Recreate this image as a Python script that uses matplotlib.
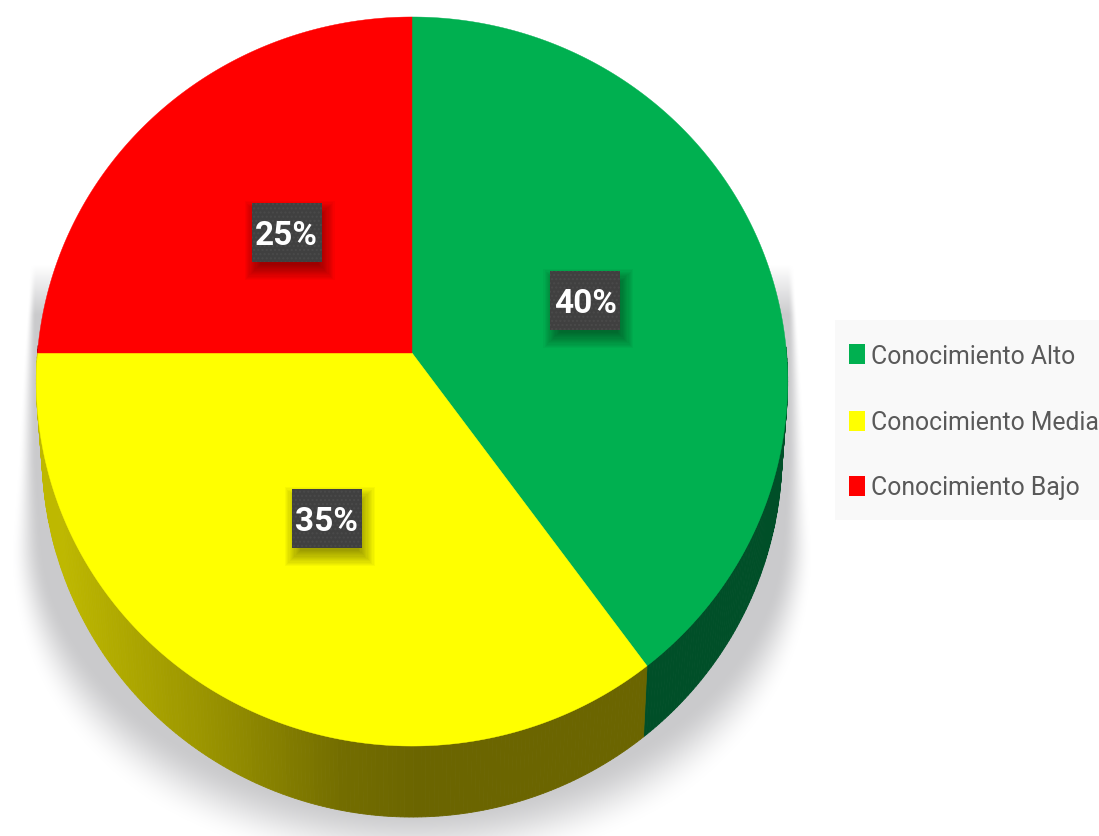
import numpy as np
import matplotlib
matplotlib.use("Agg")
import matplotlib.pyplot as plt
from matplotlib.patches import Rectangle

categories = ["Conocimiento Alto", "Conocimiento Media", "Conocimiento Bajo"]
values = [40, 35, 25]
slice_colors = ["#00B050", "#FFFF00", "#FF0000"]
side_colors = ["#004F28", "#6B6500", "#7F0000"]
labels = ["40%", "35%", "25%"]

# perspective of the pie disc, in pixels
CX, CY = 412, 353
RX, RY = 374.5, 362.3
TILT = 0.0782
DEPTH = 71
BOTTOM_SCALE = 0.985


def project(theta, r=1.0):
    # theta runs clockwise from twelve o'clock, in degrees
    t = np.radians(theta)
    x = r * np.sin(t)
    y = r * np.cos(t)
    w = 1 + TILT * y
    return CX + RX * x / w, CY - RY * y / w


fig = plt.figure(figsize=(10.99, 8.36), dpi=100)
ax = fig.add_axes([0, 0, 1, 1])

# soft shadow under the pie, tight along the sides and loose at the bottom
xx, yy = np.meshgrid(np.arange(1099) + 0.5, np.arange(836) + 0.5)
ry_map = np.where(yy < 540, 1500, 300)
dist = np.sqrt(((xx - 412) / 385) ** 2 + ((yy - 540) / ry_map) ** 2)
soft = np.interp(yy, [300, 467, 600, 800], [0.02, 0.05, 0.1, 0.22])
alpha = np.clip((1 - dist) / soft + 0.5, 0, 1)
alpha = alpha * alpha * (3 - 2 * alpha)
alpha = alpha * np.clip((yy - 265) / 50, 0, 1)
shadow = np.zeros((836, 1099, 4))
shadow[..., :3] = np.array([202, 202, 204]) / 255
shadow[..., 3] = alpha
ax.imshow(shadow, extent=(0, 1099, 836, 0), zorder=1, interpolation="bilinear", aspect="auto")
ax.set_xlim(0, 1099)
ax.set_ylim(836, 0)
ax.axis("off")

angles = 360 * np.cumsum([0] + values) / sum(values)

# side wall, drawn as thin strips so the yellow part can shade across
for i in range(len(values)):
    steps = np.linspace(angles[i], angles[i + 1], int(values[i] * 6) + 2)
    for a, b in zip(steps[:-1], steps[1:]):
        xa, ya = project(a)
        xb, yb = project(b)
        if ya < CY - 5 and yb < CY - 5:
            continue
        xa2 = CX + (xa - CX) * BOTTOM_SCALE
        xb2 = CX + (xb - CX) * BOTTOM_SCALE
        col = side_colors[i]
        if i == 1:
            mid = (xa + xb) / 2
            g = np.interp(mid, [60, 200, 340, 420], [0, 0.42, 0.9, 1])
            col = (
                (190 + (107 - 190) * g) / 255,
                (184 + (101 - 184) * g) / 255,
                0,
            )
        ax.fill([xa, xb, xb2, xa2], [ya, yb, yb + DEPTH, ya + DEPTH],
                color=col, lw=0.6, zorder=2)

# top face
for i in range(len(values)):
    th = np.linspace(angles[i], angles[i + 1], 200)
    px, py = project(th)
    ax.fill(np.r_[CX, px], np.r_[CY, py], color=slice_colors[i], lw=0.3, zorder=3)

# value labels on dark boxes
for i in range(len(values)):
    mid = (angles[i] + angles[i + 1]) / 2
    lx, ly = project(mid, 0.49)
    lx += 1
    ly += 2
    w, h = 70, 59
    for k in range(14):
        grow = 20 - k * 2.4
        ax.add_patch(Rectangle((lx - w / 2 + 3 - grow / 2, ly - h / 2 + 8 - grow / 2),
                               w + grow, h + grow, color="black", alpha=0.03, lw=0, zorder=4))
    ax.add_patch(Rectangle((lx - w / 2, ly - h / 2), w, h, facecolor="#404040",
                           edgecolor="#4A4A4A", hatch="....", lw=0, zorder=5))
    ax.text(lx, ly, labels[i], color="white", fontsize=24, fontweight="semibold",
            family=["Roboto", "DejaVu Sans"],
            ha="center", va="center_baseline", zorder=6)

# legend panel
ax.add_patch(Rectangle((835, 320), 264, 200, color="#F9F9F9", lw=0, zorder=2))
legend_y = [354, 421, 486]
for cat, col, y in zip(categories, slice_colors, legend_y):
    ax.add_patch(Rectangle((849, y - 10), 16, 20, color=col, lw=0, zorder=3))
    ax.text(871, y, cat, color="#595959", fontsize=17.8,
            family=["Roboto", "DejaVu Sans"],
            ha="left", va="center_baseline", zorder=3)

fig.savefig("out.png", dpi=100)
